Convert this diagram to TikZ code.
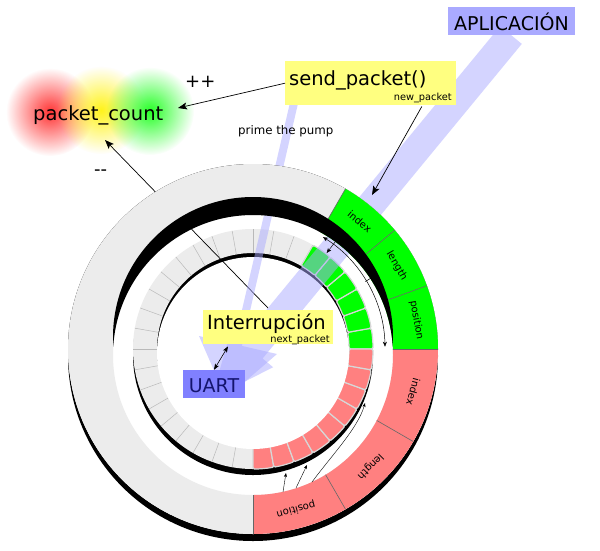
\documentclass[tikz,border=0pt]{standalone}
\usepackage{fontspec}
\setmainfont{DejaVu Sans}
\usetikzlibrary{arrows.meta,fadings,calc}
\definecolor{ringgrey}{RGB}{236,236,236}
\definecolor{sepgrey}{RGB}{185,185,185}
\definecolor{segborder}{RGB}{215,215,215}
\definecolor{pgreen}{RGB}{0,255,0}
\definecolor{pred}{RGB}{255,128,128}
\definecolor{beamblue}{RGB}{170,170,255}
\definecolor{appblue}{RGB}{170,170,255}
\definecolor{lblyellow}{RGB}{255,255,128}
\definecolor{uartblue}{RGB}{128,128,255}
\definecolor{uarttext}{RGB}{20,20,110}
\tikzfading[name=glowfade, inner color=transparent!0, outer color=transparent!100]
\begin{document}
\begin{tikzpicture}[x=1pt,y=1pt,
  bigtxt/.style={font=\fontsize{19.5}{20}\selectfont},
  smalltxt/.style={font=\fontsize{9.8}{10}\selectfont},
  segtxt/.style={font=\fontsize{10}{10}\selectfont},
  arr/.style={-{Stealth[length=9pt,width=7pt,inset=2pt]}, line width=0.7pt},
  smallarr/.style={-{Stealth[length=5pt,width=4pt,inset=1.5pt]}, line width=0.5pt},
  tinyarr/.style={-{Stealth[length=4pt,width=3pt,inset=1pt]}, line width=0.4pt},
  inseg/.style={draw=segborder, line width=1.2pt, rounded corners=1.5pt},
  beam/.style={fill=beamblue, fill opacity=0.5},
  ybox/.style={fill=lblyellow, inner sep=0, anchor=north west}]
\useasboundingbox (0,0) rectangle (600,-550);
\fill[white] (0,0) rectangle (600,-550);

% glows behind packet_count
\fill[red!80, path fading=glowfade] (50,-112) circle (44);
\fill[yellow!90, path fading=glowfade] (101,-110) circle (44);
\fill[green!85, path fading=glowfade] (150,-111) circle (44);
\node[bigtxt, anchor=base west, inner sep=0] (pc) at (33,-120) {packet\_count};

% inner ring
\begin{scope}[shift={(253,-349)}]
  \fill[black] (0,-6) circle (120);
  \fill[ringgrey, even odd rule] (0,0) circle (120) (0,0) circle (96);
  \foreach \a in {60,70,...,270} \draw[sepgrey, line width=0.5pt] (\a:96) -- (\a:120);
  \foreach \a in {0,10,...,50}
    \draw[inseg, fill=pgreen] (\a:96) arc[start angle=\a, end angle=\a+10, radius=96]
      -- ({\a+10}:120) arc[start angle=\a+10, end angle=\a, radius=120] -- cycle;
  \foreach \a in {-90,-80,...,-10}
    \draw[inseg, fill=pred] (\a:96) arc[start angle=\a, end angle=\a+10, radius=96]
      -- ({\a+10}:120) arc[start angle=\a+10, end angle=\a, radius=120] -- cycle;
  \fill[white] (0,-4) circle (96);
\end{scope}

% line from Interrupcion to packet_count (under outer ring)
\coordinate (intrtop) at (268,-308);
\coordinate (pctip) at (105,-140);
\draw[arr] (intrtop) -- (pctip);

% beams
\fill[beam] (500.2,-26.1) -- (241,-340.7) -- (230.5,-332) -- (211.6,-398.5)
  -- (273.1,-367.2) -- (262.6,-358.5) -- (521.8,-43.9) -- cycle;
\fill[beam] (290.1,-102.1) -- (234.1,-344.1) -- (199,-336) -- (226,-398)
  -- (277,-354) -- (241.9,-345.9) -- (297.9,-103.9) -- cycle;

% outer ring
\fill[black, even odd rule] (253,-356) circle (185) (253,-349) circle (185);
\begin{scope}[shift={(253,-349)}]
  \clip (185,0) arc[start angle=0, end angle=360, radius=185] -- cycle
        (140,-6) arc[start angle=360, end angle=0, radius=140] -- cycle;
  \fill[ringgrey] (0,0) circle (190);
  \foreach \a/\b/\c in {60/40/pgreen,40/20/pgreen,20/0/pgreen,0/-30/pred,-30/-60/pred,-60/-90/pred}
    \fill[\c] (\a:120) arc[start angle=\a, end angle=\b, radius=120]
      -- (\b:190) arc[start angle=\b, end angle=\a, radius=190] -- cycle;
  \foreach \a in {60,40,20,0,-30,-60,-90}
    \draw[black!60, line width=0.6pt] (\a:120) -- (\a:190);
  \fill[black] (0,12) circle (140);
\end{scope}
\foreach \a/\t/\n in {50/index/gi,30/length/gl,10/position/gp,-15/index/ri,-45/length/rl,-75/position/rp}
  \node[segtxt, rotate=\a-90] (\n) at ($(253,-349)+(\a:166)$) {\t};

% arrows in the gap between rings
\coordinate (arcA) at ($(253,-349)+(58:132)$);
\draw[{Stealth[length=5pt,width=4pt,inset=1.5pt]}-{Stealth[length=5pt,width=4pt,inset=1.5pt]}, line width=0.5pt]
  (arcA) arc[start angle=58, end angle=1, radius=132];
\coordinate (tickA) at ($(253,-349)+(31:131)$);
\coordinate (tickB) at ($(253,-349)+(31:139)$);
\draw[line width=0.5pt] (tickA) -- (tickB);
\coordinate (rA) at ($(253,-349)+(52.5:136)$);
\coordinate (rB) at ($(253,-349)+(52.5:121)$);
\draw[smallarr] (rA) -- (rB);
\coordinate (b1s) at (283,-492); \coordinate (b1e) at (286,-473);
\coordinate (b2s) at (296,-488); \coordinate (b2e) at (307,-465);
\coordinate (b3s) at (312,-482); \coordinate (b3e) at (365,-403);
\draw[tinyarr] (b1s) -- (b1e);
\draw[tinyarr] (b2s) -- (b2e);
\draw[tinyarr] (b3s) .. controls (332,-455) and (358,-428) .. (b3e);

% labels
\node[fill=appblue, inner sep=0, minimum width=127pt, text height=23pt, text depth=5pt,
  font=\fontsize{19}{20}\selectfont] (app) at (511.5,-21) {APLICACIÓN};

\node[ybox, minimum width=171pt, minimum height=44pt] (sp) at (285,-61) {};
\node[bigtxt, anchor=base west, inner sep=0] (sptext) at (289,-85) {send\_packet()};
\node[smalltxt, anchor=base east, inner sep=0] (nptext) at (452,-100) {new\_packet};

\node[ybox, minimum width=130pt, minimum height=34pt] (intr) at (203,-310) {};
\node[bigtxt, anchor=base west, inner sep=0] (intrtext) at (207,-329) {Interrupción};
\node[smalltxt, anchor=base east, inner sep=0] (nexttext) at (330,-342) {next\_packet};

\node[fill=uartblue, text=uarttext, inner sep=0, minimum width=62pt, text height=22.5pt,
  text depth=5.5pt, font=\fontsize{19}{20}\selectfont] (uart) at (214,-384) {UART};

\node[font=\fontsize{11.8}{12}\selectfont, anchor=base west, inner sep=0] (ptp) at (238,-134) {prime the pump};
\node[font=\fontsize{18}{18}\selectfont, anchor=base west, inner sep=0] (pp) at (185,-87) {++};
\node[font=\fontsize{18}{18}\selectfont, anchor=base west, inner sep=0] (mm) at (94,-175) {-{}-};

% connectors
\coordinate (pcin) at (178,-108);
\draw[arr] (sp.west) -- (pcin);
\coordinate (gidx) at (372,-195);
\draw[arr] ($(nptext.south)+(-1,-4)$) -- (gidx);
\draw[{Stealth[length=6pt,width=4.5pt,inset=1.5pt]}-{Stealth[length=6pt,width=4.5pt,inset=1.5pt]}, line width=0.6pt]
  ($(intr.south west)+(25,-2)$) -- (uart.north);
\end{tikzpicture}
\end{document}
